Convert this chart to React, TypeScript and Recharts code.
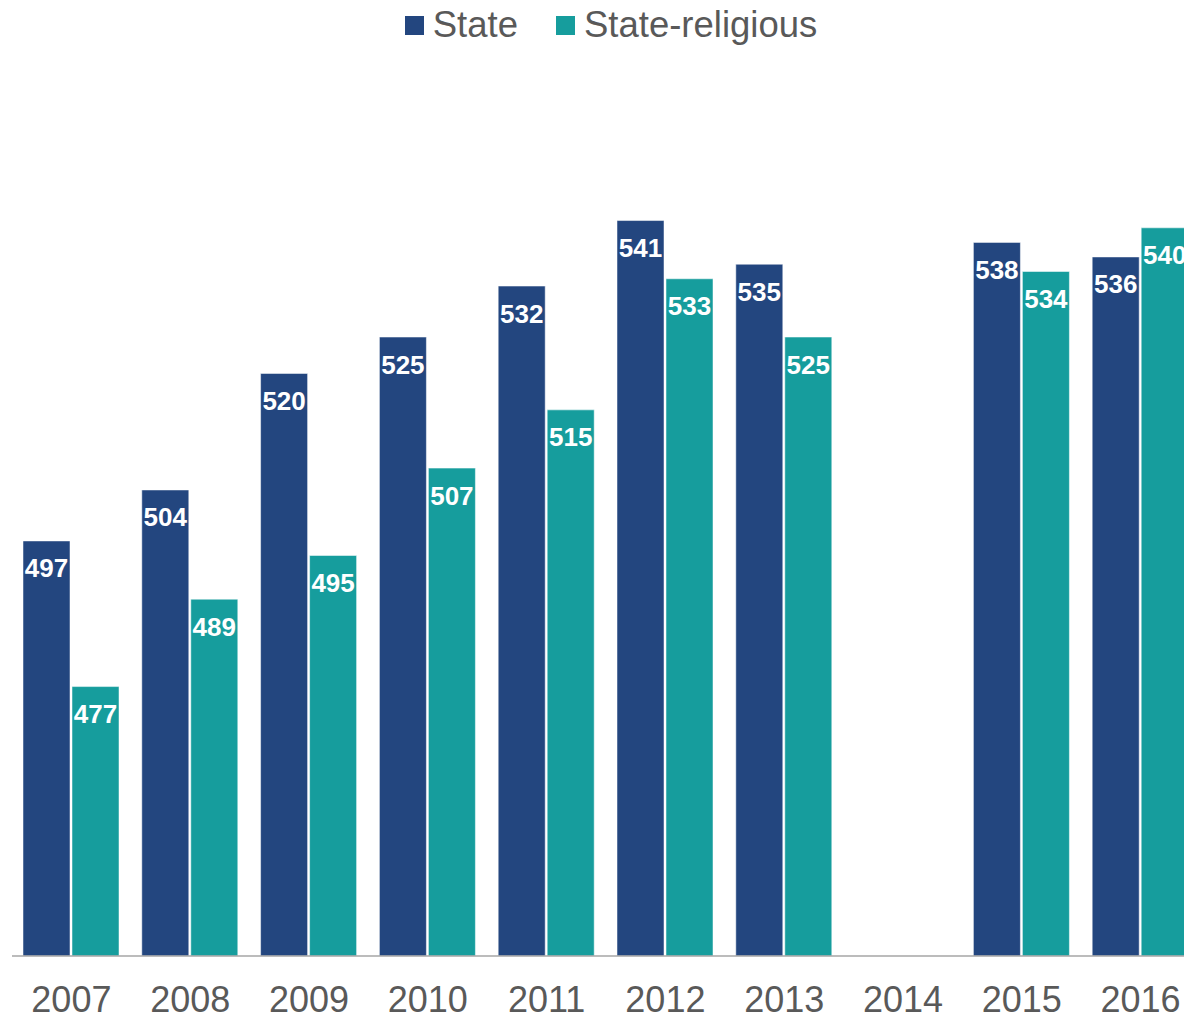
import { BarChart, Bar, XAxis, YAxis, Legend, LabelList } from "recharts";

const years = ["2007", "2008", "2009", "2010", "2011", "2012", "2013", "2014", "2015", "2016"];
const stateScores = [497, 504, 520, 525, 532, 541, 535, null, 538, 536];
const religiousScores = [477, 489, 495, 507, 515, 533, 525, null, 534, 540];

const NAVY = "#23467F";
const TEAL = "#169D9D";
const FONT = "'Liberation Sans', Arial, sans-serif";

const data = years.map((year, i) => ({
  year,
  state: stateScores[i],
  religious: religiousScores[i],
}));

function LegendContent() {
  const items = [
    { name: "State", color: NAVY },
    { name: "State-religious", color: TEAL },
  ];
  return (
    <div
      style={{
        height: 50,
        display: "flex",
        justifyContent: "center",
        alignItems: "center",
        paddingLeft: 10,
        fontFamily: FONT,
      }}
    >
      {items.map((item, i) => (
        <div
          key={item.name}
          style={{ display: "flex", alignItems: "center", marginLeft: i ? 38 : 0 }}
        >
          <span style={{ width: 19, height: 19, background: item.color, marginRight: 9 }} />
          <span style={{ fontSize: 36.5, color: "#595959", lineHeight: "42px" }}>{item.name}</span>
        </div>
      ))}
    </div>
  );
}

export default function App() {
  return (
    <div
      style={{
        position: "fixed",
        left: 0,
        top: 0,
        width: 1184,
        height: 1018,
        overflow: "hidden",
        background: "#fff",
      }}
    >
      <BarChart
        width={1200}
        height={1018}
        data={data}
        margin={{ top: 30, right: 0, left: 12, bottom: 0 }}
        barSize={47}
        barGap={2}
      >
        <Legend verticalAlign="top" content={<LegendContent />} wrapperStyle={{ top: 0 }} />
        <XAxis
          dataKey="year"
          height={62}
          tickLine={false}
          tickSize={0}
          tickMargin={30}
          axisLine={{ stroke: "#A6A6A6", strokeWidth: 1.5 }}
          tick={{ fontSize: 36, fill: "#595959", fontFamily: FONT }}
          interval={0}
        />
        <YAxis hide type="number" domain={[440, 560.3]} allowDataOverflow />
        <Bar dataKey="state" fill={NAVY} stroke="#fff" strokeWidth={0.5} isAnimationActive={false}>
          <LabelList
            dataKey="state"
            position="insideTop"
            offset={18}
            fill="#fff"
            style={{ fontSize: 26, fontWeight: 700, fontFamily: FONT }}
          />
        </Bar>
        <Bar dataKey="religious" fill={TEAL} stroke="#fff" strokeWidth={0.5} isAnimationActive={false}>
          <LabelList
            dataKey="religious"
            position="insideTop"
            offset={18}
            fill="#fff"
            style={{ fontSize: 26, fontWeight: 700, fontFamily: FONT }}
          />
        </Bar>
      </BarChart>
    </div>
  );
}
